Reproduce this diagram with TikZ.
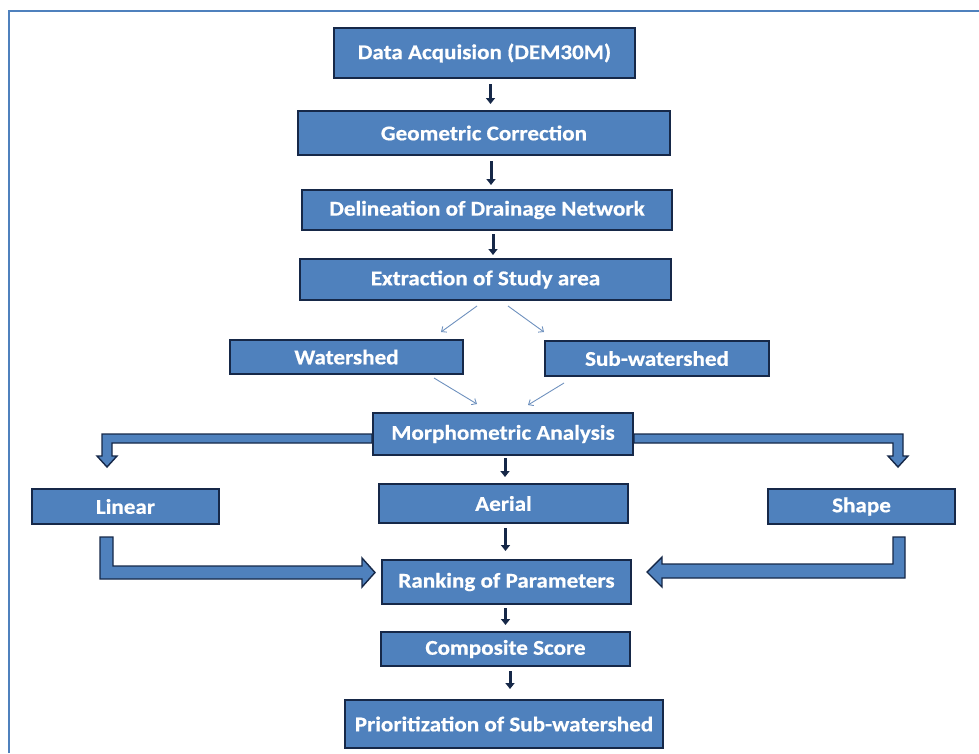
\documentclass[tikz,border=0pt]{standalone}
\usepackage{fontspec}
\setmainfont{Carlito}
\newfontfamily\boxfont[FakeStretch=1.1, FakeBold=0.6]{Carlito Bold}
\usepackage{tikz}
\usetikzlibrary{arrows.meta, positioning, calc}

\definecolor{boxfill}{RGB}{79,129,189}
\definecolor{boxline}{RGB}{22,40,72}
\definecolor{thinline}{RGB}{110,145,190}

\tikzset{
    box/.style={draw=boxline, fill=boxfill, line width=2pt, rectangle, text=white,
        font=\boxfont\fontsize{21}{24}\selectfont, inner sep=0pt},
    darrow/.style={draw=boxline, line width=3pt, -{Triangle[width=9pt, length=6pt]}},
    tarrow/.style={draw=thinline, line width=0.9pt, -{Straight Barb[length=4pt, width=7pt]}},
    fatarrow/.style={draw=boxline, fill=boxfill, line width=1.4pt, line join=miter}
}

\begin{document}
\begin{tikzpicture}[x=1pt, y=-1pt]
        \useasboundingbox (0,0) rectangle (979,753);
        % frame
        \draw[boxfill, line width=2.5pt] (9,753) -- (9,11) -- (979,11);

        % Flowchart for morphometric prioritization
        \node[box, minimum width=301pt, minimum height=50pt] (data) at (484.5,53) {Data Acquision (DEM30M)};
        \node[box, minimum width=372pt, minimum height=44pt] (geo) at (484,133) {Geometric Correction};
        \node[box, minimum width=370pt, minimum height=40pt] (delin) at (487,210) {Delineation of Drainage Network};
        \node[box, minimum width=371pt, minimum height=41pt] (extr) at (485.5,279.5) {Extraction of Study area};
        \node[box, minimum width=233pt, minimum height=34pt] (water) at (346.5,357) {Watershed};
        \node[box, minimum width=224pt, minimum height=35pt] (sub) at (657,358.5) {Sub-watershed};
        \node[box, minimum width=260pt, minimum height=42pt] (morph) at (503,434) {Morphometric Analysis};
        \node[box, minimum width=187pt, minimum height=35pt] (linear) at (125.5,506.5) {Linear};
        \node[box, minimum width=249pt, minimum height=39pt] (aerial) at (503.5,503.5) {Aerial};
        \node[box, minimum width=187pt, minimum height=35pt] (shape) at (861.5,506.5) {Shape};
        \node[box, minimum width=249pt, minimum height=44pt] (rank) at (506.5,582) {Ranking of Parameters};
        \node[box, minimum width=249pt, minimum height=34pt] (comp) at (505.5,649) {Composite Score};
        \node[box, minimum width=318pt, minimum height=48pt] (prio) at (504,724) {Prioritization of Sub-watershed};

        \draw[darrow, shorten <=5pt, shorten >=6pt] ([xshift=6pt]data.south) -- ([xshift=6pt]data.south |- geo.north);
        \draw[darrow, shorten <=5pt, shorten >=4pt] ([xshift=7pt]geo.south) -- ([xshift=7pt]geo.south |- delin.north);
        \draw[darrow, shorten <=3pt, shorten >=3pt] ([xshift=6pt]delin.south) -- ([xshift=6pt]delin.south |- extr.north);
        \draw[tarrow] ([shift={(-8.5,5)}]extr.south) -- ([shift={(-23,-7)}]water.north east);
        \draw[tarrow] ([shift={(22.5,5)}]extr.south) -- ([shift={(0,-8)}]sub.north west);
        \draw[tarrow] ([shift={(-30,3)}]water.south east) -- ([shift={(-26,-8)}]morph.north);
        \draw[tarrow] ([shift={(20,6)}]sub.south west) -- ([shift={(25,-7)}]morph.north);
        \draw[darrow, shorten <=2pt, shorten >=6pt] ([xshift=2pt]morph.south) -- ([xshift=2pt]morph.south |- aerial.north);
        \draw[darrow, shorten <=4pt, shorten >=8pt] ([xshift=2pt]aerial.south) -- ([xshift=2pt]aerial.south |- rank.north);
        \draw[darrow, shorten <=3pt, shorten >=6pt] ([xshift=-1pt]rank.south) -- ([xshift=-1pt]rank.south |- comp.north);
        \draw[darrow, shorten <=4pt, shorten >=10pt] ([xshift=4.5pt]comp.south) -- ([xshift=4.5pt]comp.south |- prio.north);

        % wide arrows
        \draw[fatarrow] (morph.west) -- ++(-270,0) -- ++(0,22) -- ++(-5,0) -- ++(10,11) -- ++(10,-11)
            -- ++(-5,0) -- ++(0,-13) -- ++(260,0) -- cycle;
        \draw[fatarrow] (morph.east) -- ++(269,0) -- ++(0,22) -- ++(5,0) -- ++(-10,11) -- ++(-10,-11)
            -- ++(5,0) -- ++(0,-13) -- ++(-259,0) -- cycle;
        \draw[fatarrow] ([shift={(-25.5,12)}]linear.south) -- ++(0,42) -- ++(262,0) -- ++(0,8) -- ++(13,-14.5)
            -- ++(-13,-14.5) -- ++(0,8) -- ++(-249,0) -- ++(0,-29) -- cycle;
        \draw[fatarrow] ([shift={(43.5,12)}]shape.south) -- ++(0,41) -- ++(-243,0) -- ++(0,9) -- ++(-15,-15)
            -- ++(15,-15) -- ++(0,7) -- ++(231,0) -- ++(0,-27) -- cycle;
    \end{tikzpicture}
\end{document}
